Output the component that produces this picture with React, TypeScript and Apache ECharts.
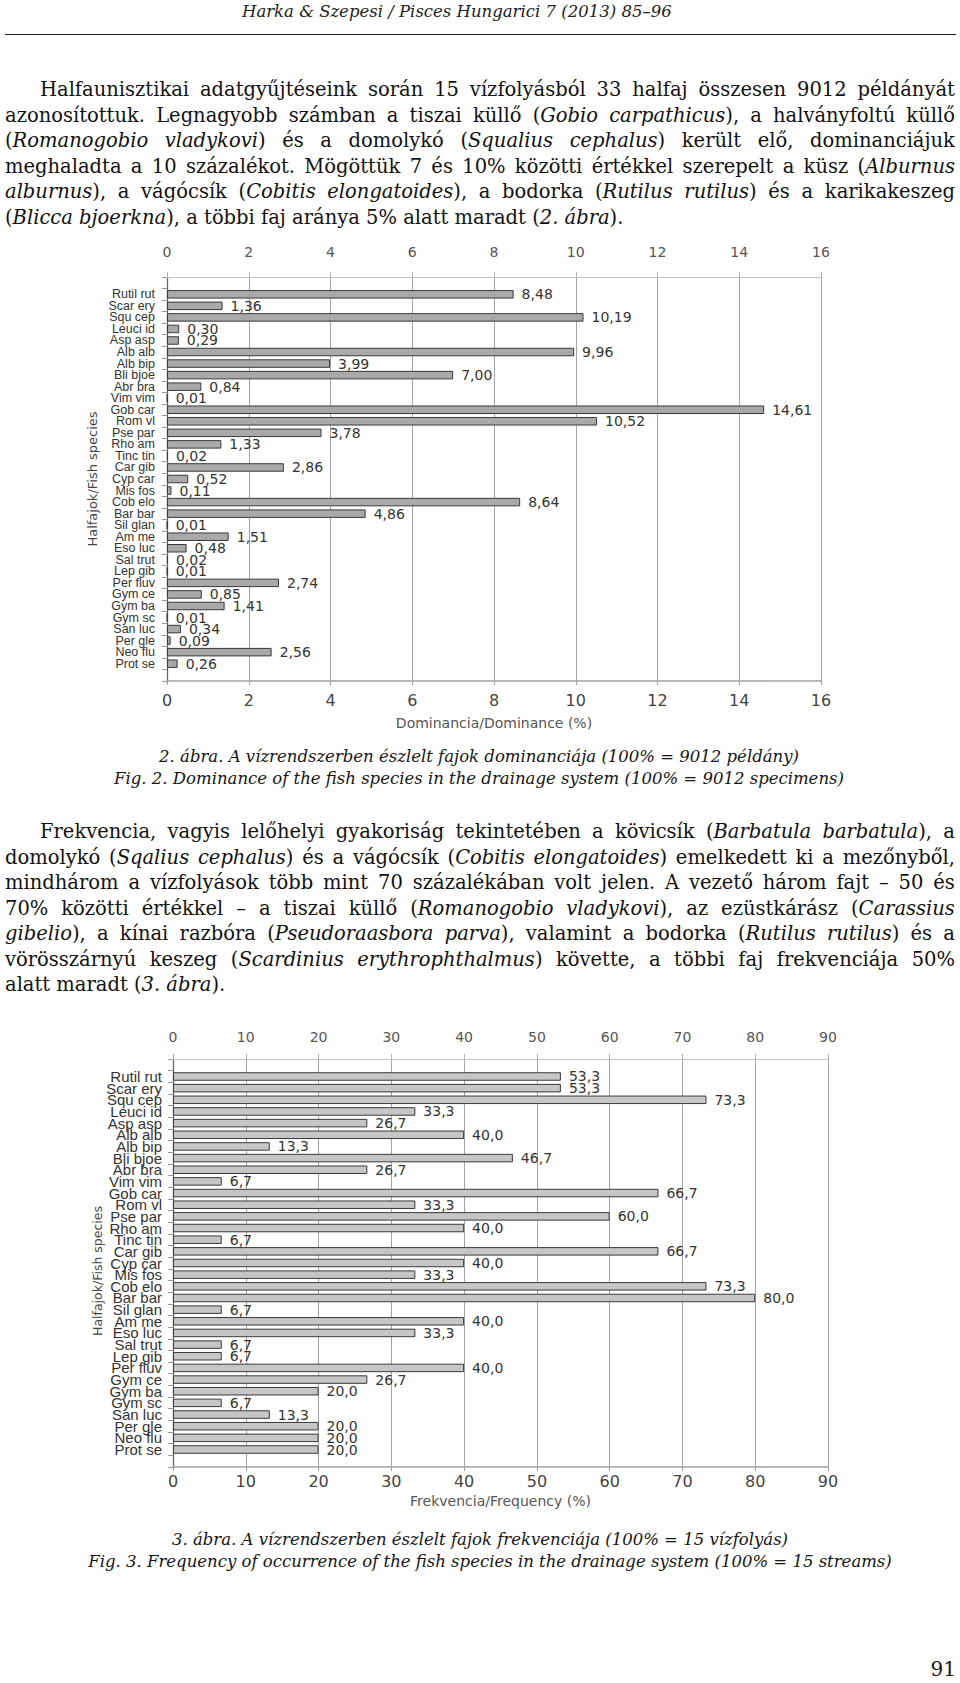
import React, { useEffect, useRef } from "react";
import * as echarts from "echarts";

// ---------- DATA ----------
const species = [
  "Rutil rut", "Scar ery", "Squ cep", "Leuci id", "Asp asp", "Alb alb", "Alb bip", "Bli bjoe",
  "Abr bra", "Vim vim", "Gob car", "Rom vl", "Pse par", "Rho am", "Tinc tin", "Car gib",
  "Cyp car", "Mis fos", "Cob elo", "Bar bar", "Sil glan", "Am me", "Eso luc", "Sal trut",
  "Lep gib", "Per fluv", "Gym ce", "Gym ba", "Gym sc", "San luc", "Per gle", "Neo flu", "Prot se",
];

const dominance = [
  8.48, 1.36, 10.19, 0.30, 0.29, 9.96, 3.99, 7.00, 0.84, 0.01, 14.61, 10.52, 3.78, 1.33, 0.02, 2.86,
  0.52, 0.11, 8.64, 4.86, 0.01, 1.51, 0.48, 0.02, 0.01, 2.74, 0.85, 1.41, 0.01, 0.34, 0.09, 2.56, 0.26,
];

const frequency = [
  53.3, 53.3, 73.3, 33.3, 26.7, 40.0, 13.3, 46.7, 26.7, 6.7, 66.7, 33.3, 60.0, 40.0, 6.7, 66.7,
  40.0, 33.3, 73.3, 80.0, 6.7, 40.0, 33.3, 6.7, 6.7, 40.0, 26.7, 20.0, 6.7, 13.3, 20.0, 20.0, 20.0,
];

const dominanceTicks = { min: 0, max: 16, interval: 2 };
const frequencyTicks = { min: 0, max: 90, interval: 10 };

const headerText = "Harka & Szepesi / Pisces Hungarici 7 (2013) 85–96";

const para1 = [
  "Halfaunisztikai adatgyűjtéseink során 15 vízfolyásból 33 halfaj összesen 9012 példányát",
  "azonosítottuk. Legnagyobb számban a tiszai küllő (*Gobio carpathicus*), a halványfoltú küllő",
  "(*Romanogobio vladykovi*) és a domolykó (*Squalius cephalus*) került elő, dominanciájuk",
  "meghaladta a 10 százalékot. Mögöttük 7 és 10% közötti értékkel szerepelt a küsz (*Alburnus*",
  "*alburnus*), a vágócsík (*Cobitis elongatoides*), a bodorka (*Rutilus rutilus*) és a karikakeszeg",
  "(*Blicca bjoerkna*), a többi faj aránya 5% alatt maradt (*2. ábra*).",
];

const para2 = [
  "Frekvencia, vagyis lelőhelyi gyakoriság tekintetében a kövicsík (*Barbatula barbatula*), a",
  "domolykó (*Sqalius cephalus*) és a vágócsík (*Cobitis elongatoides*) emelkedett ki a mezőnyből,",
  "mindhárom a vízfolyások több mint 70 százalékában volt jelen. A vezető három fajt – 50 és",
  "70% közötti értékkel – a tiszai küllő (*Romanogobio vladykovi*), az ezüstkárász (*Carassius*",
  "*gibelio*), a kínai razbóra (*Pseudoraasbora parva*), valamint a bodorka (*Rutilus rutilus*) és a",
  "vörösszárnyú keszeg (*Scardinius erythrophthalmus*) követte, a többi faj frekvenciája 50%",
  "alatt maradt (*3. ábra*).",
];

const caption2 = [
  "2. ábra. A vízrendszerben észlelt fajok dominanciája (100% = 9012 példány)",
  "Fig. 2. Dominance of the fish species in the drainage system (100% = 9012 specimens)",
];
const caption3 = [
  "3. ábra. A vízrendszerben észlelt fajok frekvenciája (100% = 15 vízfolyás)",
  "Fig. 3. Frequency of occurrence of the fish species in the drainage system (100% = 15 streams)",
];

const yAxisName = "Halfajok/Fish species";
const xName1 = "Dominancia/Dominance (%)";
const xName2 = "Frekvencia/Frequency (%)";
const pageNumber = "91";

// ---------- HELPERS ----------
type Run = { t: string; i: boolean };
function parseLine(s: string): Run[][] {
  const words: Run[][] = [];
  let italic = false;
  let cur: Run[] = [];
  let buf = "";
  const pushBuf = () => {
    if (buf) {
      cur.push({ t: buf, i: italic });
      buf = "";
    }
  };
  for (const ch of s) {
    if (ch === "*") {
      pushBuf();
      italic = !italic;
    } else if (ch === " ") {
      pushBuf();
      if (cur.length) words.push(cur);
      cur = [];
    } else buf += ch;
  }
  pushBuf();
  if (cur.length) words.push(cur);
  return words;
}

const SERIF = "'DejaVu Serif', 'Liberation Serif', serif";
const SANS = "'DejaVu Sans', 'Liberation Sans', sans-serif";
const CAT = "'Liberation Sans', Arial, sans-serif";

function Paragraph({ lines, tops }: { lines: string[]; tops: number[] }) {
  return (
    <>
      {lines.map((ln, k) => {
        const last = k === lines.length - 1;
        const words = parseLine(ln);
        return (
          <div
            key={k}
            style={{
              position: "absolute",
              left: 5,
              top: tops[k] - 13,
              width: 950,
              height: 26,
              lineHeight: "26px",
              display: "flex",
              justifyContent: last ? "flex-start" : "space-between",
              gap: last ? "0.318em" : 0,
              paddingLeft: k === 0 ? 35 : 0,
              boxSizing: "border-box",
              fontFamily: SERIF,
              fontSize: 19.5,
              color: "#111",
            }}
          >
            {words.map((w, j) => (
              <span key={j} style={{ whiteSpace: "nowrap", flex: "0 0 auto" }}>
                {w.map((r, m) => (r.i ? <i key={m}>{r.t}</i> : <span key={m}>{r.t}</span>))}
              </span>
            ))}
          </div>
        );
      })}
    </>
  );
}

function Caption({ text, cy, cx }: { text: string; cy: number; cx: number }) {
  return (
    <div
      style={{
        position: "absolute",
        left: cx - 480,
        top: cy - 11,
        width: 960,
        height: 22,
        lineHeight: "22px",
        textAlign: "center",
        fontFamily: SERIF,
        fontStyle: "italic",
        fontSize: 16.5,
        color: "#151515",
        whiteSpace: "nowrap",
      }}
    >
      {text}
    </div>
  );
}

type ChartCfg = {
  values: number[];
  ticks: { min: number; max: number; interval: number };
  decimals: number;
  divTop: number;
  divHeight: number;
  gridLeft: number;
  gridTop: number;
  gridWidth: number;
  gridHeight: number;
  barColor: string;
  catFont: number;
  catMargin: number;
  topMargin: number;
  bottomMargin: number;
  nameGap: number;
  xName: string;
  yNameX: number;
  yNameY: number;
  yNameSize: number;
};

function buildOption(c: ChartCfg) {
  const cats = ["", ...species, ""];
  const data: (number | string)[] = ["-", ...c.values, "-"];
  const band = c.gridHeight / cats.length;
  return {
    animation: false,
    grid: { left: c.gridLeft, top: c.gridTop, width: c.gridWidth, height: c.gridHeight, containLabel: false },
    xAxis: [
      {
        type: "value",
        position: "top",
        min: c.ticks.min,
        max: c.ticks.max,
        interval: c.ticks.interval,
        axisLine: { show: true, lineStyle: { color: "#c4c4c4", width: 1 } },
        axisTick: { show: true, inside: false, length: 5, lineStyle: { color: "#b0b0b0" } },
        axisLabel: { margin: c.topMargin, fontSize: 14, color: "#555", fontFamily: SANS },
        splitLine: { show: true, lineStyle: { color: "#a4a4a4", width: 1 } },
      },
      {
        type: "value",
        position: "bottom",
        min: c.ticks.min,
        max: c.ticks.max,
        interval: c.ticks.interval,
        axisLine: { show: true, lineStyle: { color: "#a0a0a0", width: 1.5 } },
        axisTick: { show: true, inside: false, length: 4, lineStyle: { color: "#a0a0a0" } },
        axisLabel: { margin: c.bottomMargin, fontSize: 16, color: "#444", fontFamily: SANS },
        splitLine: { show: false },
        name: c.xName,
        nameLocation: "middle",
        nameGap: c.nameGap,
        nameTextStyle: { fontSize: 14, color: "#555", fontFamily: SANS },
      },
    ],
    yAxis: [
      {
        type: "category",
        inverse: true,
        data: cats,
        axisLine: { show: true, lineStyle: { color: "#999", width: 1.2 } },
        axisTick: { show: true, inside: false, length: 5, lineStyle: { color: "#999" } },
        axisLabel: {
          interval: 0,
          margin: c.catMargin,
          fontSize: c.catFont,
          lineHeight: Math.floor(band * 10) / 10 - 0.2,
          color: "#333",
          fontFamily: CAT,
        },
        splitLine: { show: false },
      },
      {
        type: "category",
        position: "right",
        inverse: true,
        data: cats,
        axisLine: { show: true, lineStyle: { color: "#6a6a6a", width: 1.2 } },
        axisTick: { show: false },
        axisLabel: { show: false },
        splitLine: { show: false },
      },
    ],
    series: [
      {
        type: "bar",
        xAxisIndex: 0,
        yAxisIndex: 0,
        data,
        barWidth: 8.5,
        itemStyle: { color: c.barColor, borderColor: "#3a3a3a", borderWidth: 1 },
        label: {
          show: true,
          position: "right",
          distance: 8,
          fontSize: 14,
          lineHeight: Math.floor(band * 10) / 10 - 0.2,
          color: "#333",
          fontFamily: SANS,
          formatter: (p: any) =>
            typeof p.value === "number" ? p.value.toFixed(c.decimals).replace(".", ",") : "",
        },
      },
    ],
    graphic: [
      {
        type: "text",
        x: c.yNameX,
        y: c.yNameY - c.divTop,
        rotation: Math.PI / 2,
        style: {
          text: yAxisName,
          fontSize: c.yNameSize,
          fontFamily: SANS,
          fill: "#444",
          align: "center",
          verticalAlign: "middle",
        },
      },
    ],
  };
}

function BarChart({ cfg }: { cfg: ChartCfg }) {
  const ref = useRef<HTMLDivElement>(null);
  useEffect(() => {
    if (!ref.current) return;
    const chart = echarts.init(ref.current, undefined, { renderer: "svg" });
    chart.setOption(buildOption(cfg) as any);
    return () => chart.dispose();
  }, [cfg]);
  return (
    <div
      ref={ref}
      style={{ position: "absolute", left: 0, top: cfg.divTop, width: 960, height: cfg.divHeight }}
    />
  );
}

const chart1: ChartCfg = {
  values: dominance,
  ticks: dominanceTicks,
  decimals: 2,
  divTop: 230,
  divHeight: 510,
  gridLeft: 167,
  gridTop: 47,
  gridWidth: 654,
  gridHeight: 404,
  barColor: "#a9a9a9",
  catFont: 12.5,
  catMargin: 12,
  topMargin: 18,
  bottomMargin: 11,
  nameGap: 35,
  xName: xName1,
  yNameX: 92,
  yNameY: 479,
  yNameSize: 13,
};

const chart2: ChartCfg = {
  values: frequency,
  ticks: frequencyTicks,
  decimals: 1,
  divTop: 1015,
  divHeight: 500,
  gridLeft: 173,
  gridTop: 44,
  gridWidth: 655,
  gridHeight: 408,
  barColor: "#c6c6c6",
  catFont: 15,
  catMargin: 11,
  topMargin: 15,
  bottomMargin: 6,
  nameGap: 26,
  xName: xName2,
  yNameX: 97,
  yNameY: 1271,
  yNameSize: 12.5,
};

const para1Tops = [90, 115.5, 141, 166.5, 192, 217.5];
const para2Tops = [832, 857.5, 883, 908.5, 934, 959.5, 985];

export default function App() {
  return (
    <div
      style={{
        position: "absolute",
        left: 0,
        top: 0,
        width: 960,
        height: 1683,
        background: "#fff",
        overflow: "hidden",
      }}
    >
      <div
        style={{
          position: "absolute",
          left: 242,
          top: 1,
          height: 22,
          lineHeight: "22px",
          fontFamily: SERIF,
          fontStyle: "italic",
          fontSize: 16.5,
          color: "#222",
          whiteSpace: "nowrap",
        }}
      >
        {headerText}
      </div>
      <div
        style={{
          position: "absolute",
          left: 5,
          top: 34,
          width: 951,
          height: 0,
          borderTop: "1.5px solid #222",
        }}
      />
      <Paragraph lines={para1} tops={para1Tops} />
      <BarChart cfg={chart1} />
      <Caption text={caption2[0]} cy={757} cx={479} />
      <Caption text={caption2[1]} cy={779} cx={479} />
      <Paragraph lines={para2} tops={para2Tops} />
      <BarChart cfg={chart2} />
      <Caption text={caption3[0]} cy={1540} cx={480} />
      <Caption text={caption3[1]} cy={1562} cx={490} />
      <div
        style={{
          position: "absolute",
          right: 4,
          top: 1656,
          height: 26,
          lineHeight: "26px",
          fontFamily: SERIF,
          fontSize: 20,
          color: "#151515",
        }}
      >
        {pageNumber}
      </div>
    </div>
  );
}
